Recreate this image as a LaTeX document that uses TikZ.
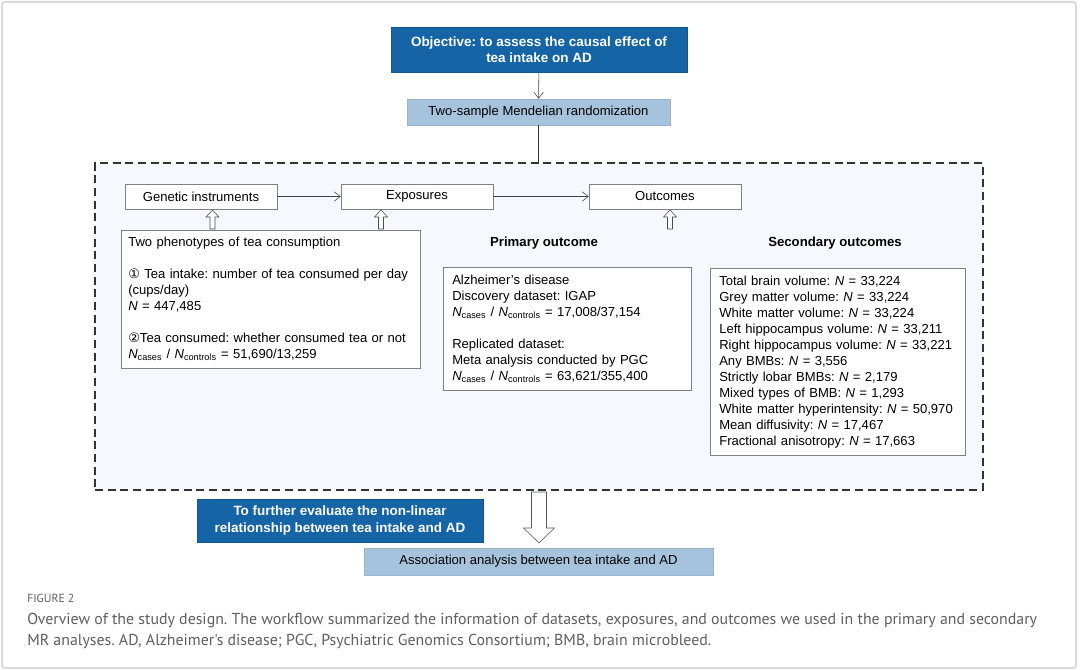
\documentclass[tikz,border=0pt]{standalone}
\usepackage{fontspec}
\setmainfont{Liberation Sans}
\newfontfamily\symfont{DejaVu Sans}
\newfontfamily\capfont{PT Sans}
\usetikzlibrary{arrows.meta}
\definecolor{objblue}{HTML}{1565A6}
\definecolor{mrblue}{HTML}{A5C3DC}
\definecolor{panelfill}{HTML}{F5F9FD}
\definecolor{boxgray}{HTML}{808080}
\definecolor{captext}{HTML}{5F5F5F}
\definecolor{framegray}{HTML}{DADADA}
\newcommand\casectl{\textit{N}\textsubscript{cases} / \textit{N}\textsubscript{controls}}
\frenchspacing

\begin{document}
\begin{tikzpicture}[x=0.75pt,y=-0.75pt,font=\fontsize{9.8}{12}\selectfont,
dark/.style={fill=objblue,draw=objblue!85!black,text=white,font=\fontsize{10.1}{12.4}\selectfont\bfseries,align=center,inner sep=0pt},
light/.style={fill=mrblue,draw=mrblue!92!black,align=center,inner sep=0pt},
stage/.style={draw=boxgray,fill=white,minimum width=152*0.75pt,minimum height=25*0.75pt,inner sep=0pt},
info/.style={draw=boxgray,fill=white,align=left,anchor=north west,inner xsep=9*0.75pt,inner ysep=0pt},
panelbox/.style={draw=black!80,fill=panelfill,dash pattern=on 6pt off 3.5pt,line width=0.9pt},
head/.style={font=\fontsize{9.9}{12}\selectfont\bfseries},
line/.style={-{Straight Barb[length=4.5pt,width=7pt]},thin,black!75},
hollow up/.pic={\draw[black!70,fill=white] (-2.5,0) -- (-2.5,-12) -- (-6.5,-12) -- (0,-19) -- (6.5,-12) -- (2.5,-12) -- (2.5,0) -- cycle;},
hollow down/.pic={\draw[black!65,fill=white] (-7.5,0) -- (-7.5,36) -- (-15.5,36) -- (0,51) -- (15.5,36) -- (7.5,36) -- (7.5,0) -- cycle;}]
\useasboundingbox (0,0) rectangle (1080,670);
\fill[white] (0,0) rectangle (1080,670);
\draw[framegray,line width=1.5pt,rounded corners=2pt] (2,2) rectangle (1076,668);
\node[dark,minimum width=296*0.75pt,minimum height=45*0.75pt] (obj) at (539,49.5) {Objective: to assess the causal effect of\\tea intake on AD};
\node[light,minimum width=263*0.75pt,minimum height=26*0.75pt] (mr) at (538.5,112) {Two-sample Mendelian randomization};
\node[panelbox,minimum width=888*0.75pt,minimum height=327*0.75pt] (panel) at (539,326.5) {};
\node[stage] (gen) at (201,196.5) {Genetic instruments};
\node[stage] (exp) at (417,196.5) {Exposures};
\node[stage] (out) at (665,196.5) {Outcomes};
\node[info,text width=285*0.75pt,inner xsep=7*0.75pt,minimum height=138*0.75pt] (pheno) at (121,230) {Two phenotypes of tea consumption\\[12pt]{\symfont①} Tea intake: number of tea consumed per day\\(cups/day)\\\textit{N} = 447,485\\[12pt]{\symfont②}Tea consumed: whether consumed tea or not\\\casectl{} = 51,690/13,259};
\node[head] (primtitle) at (544,243) {Primary outcome};
\node[head] (sectitle) at (835,243) {Secondary outcomes};
\node[info,text width=230*0.75pt,minimum height=123*0.75pt] (prim) at (443,267) {Alzheimer's disease\\Discovery dataset: IGAP\\\casectl{} = 17,008/37,154\\[12pt]Replicated dataset:\\Meta analysis conducted by PGC\\\casectl{} = 63,621/355,400};
\node[info,text width=237*0.75pt,minimum height=187*0.75pt] (sec) at (710,268) {Total brain volume: \textit{N} = 33,224\\Grey matter volume: \textit{N} = 33,224\\White matter volume: \textit{N} = 33,224\\Left hippocampus volume: \textit{N} = 33,211\\Right hippocampus volume: \textit{N} = 33,221\\Any BMBs: \textit{N} = 3,556\\Strictly lobar BMBs: \textit{N} = 2,179\\Mixed types of BMB: \textit{N} = 1,293\\White matter hyperintensity: \textit{N} = 50,970\\Mean diffusivity: \textit{N} = 17,467\\Fractional anisotropy: \textit{N} = 17,663};
\node[dark,minimum width=286*0.75pt,minimum height=43*0.75pt] (further) at (340,520.5) {To further evaluate the non-linear\\relationship between tea intake and AD};
\node[light,minimum width=349*0.75pt,minimum height=27*0.75pt] (assoc) at (538.5,561.5) {Association analysis between tea intake and AD};
\node[anchor=west,inner sep=0pt,text=captext,font=\capfont\fontsize{8.8}{10}\selectfont] (figlabel) at (27,598) {FIGURE 2};
\node[anchor=north west,inner sep=0pt,align=left,text=captext,font=\capfont\fontsize{11.9}{15.75}\selectfont] (caption) at (27,613) {Overview of the study design. The workflow summarized the information of datasets, exposures, and outcomes we used in the primary and secondary\\MR analyses. AD, Alzheimer's disease; PGC, Psychiatric Genomics Consortium; BMB, brain microbleed.};
\draw[line] (obj) -- (mr);\draw[black!80] (mr) -- (mr |- panel.north);
\draw[line] (gen) -- (exp);\draw[line] (exp) -- (out);
\pic at (212.5,229) {hollow up};\pic at (381,229) {hollow up};\pic at (670,229) {hollow up};
\pic at (539,492) {hollow down};
\end{tikzpicture}
\end{document}
